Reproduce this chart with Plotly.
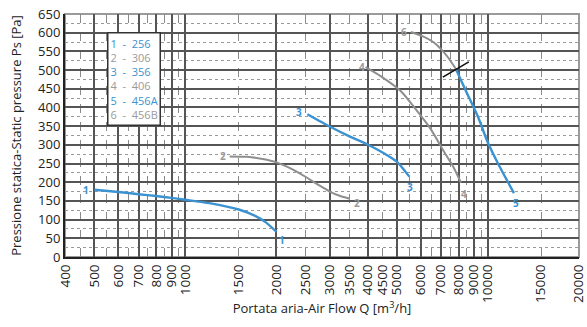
import math
import plotly.graph_objects as go

# ---- data ----
curve_ids = ["1", "2", "3", "4", "5", "6"]
models = ["256", "306", "356", "406", "456A", "456B"]

q1 = [500, 600, 700, 800, 900, 1000, 1200, 1500, 1700, 1850, 2000]
p1 = [180, 174, 168, 163, 158, 153, 144, 127, 110, 92, 67]

q2 = [1400, 1600, 1800, 2000, 2250, 2500, 2750, 3000, 3250, 3500]
p2 = [269, 268, 262, 253, 235, 214, 193, 175, 163, 156]

q3 = [2530, 3000, 3500, 4000, 4500, 5000, 5500]
p3 = [382, 349, 322, 301, 279, 255, 215]

q4 = [3940, 4420, 5150, 6000, 6500, 7180, 7700, 8150]
p4 = [508, 484, 444, 378, 340, 280, 240, 199]

q5 = [7840, 8500, 9300, 10000, 10900, 12200]
p5 = [503, 441, 373, 306, 244, 171]

q6 = [5560, 6100, 6600, 7000, 7400, 7840]
p6 = [602, 590, 575, 556, 533, 503]

divider_q = [7100, 8650]
divider_p = [481, 522]

x_tick_vals = [400, 500, 600, 700, 800, 900, 1000, 1500, 2000, 2500, 3000, 3500,
               4000, 4500, 5000, 6000, 7000, 8000, 9000, 10000, 15000, 20000]
x_solid_grid = [500, 600, 700, 800, 900, 1000, 2000, 3000, 4000, 5000, 6000,
                7000, 8000, 9000, 10000]
x_dashed_grid = [450, 550, 650, 750, 850, 950, 1500, 2500, 3500, 4500, 5500,
                 6500, 7500, 8500, 9500, 15000]
y_tick_vals = list(range(0, 651, 50))
y_dotted_grid = list(range(25, 651, 50))

# ---- style ----
BLUE = "#3b92d0"
GRAY = "#8e8e8e"
LBL_GRAY = "#9a9a9a"
FONT = "Open Sans"
colors = [BLUE, GRAY, BLUE, GRAY, BLUE, GRAY]
widths = [2.4, 2, 2.4, 2, 2.4, 2]
curves = [(q1, p1), (q2, p2), (q3, p3), (q4, p4), (q5, p5), (q6, p6)]

fig = go.Figure()
for (q, p), c, w, cid in zip(curves, colors, widths, curve_ids):
    fig.add_trace(go.Scatter(x=q, y=p, mode="lines", name=cid,
                             line=dict(color=c, width=w, shape="spline", smoothing=0.6),
                             showlegend=False, hoverinfo="skip", xaxis="x", yaxis="y"))

fig.add_trace(go.Scatter(x=divider_q, y=divider_p, mode="lines",
                         line=dict(color="#111", width=1.6), showlegend=False,
                         hoverinfo="skip", xaxis="x2", yaxis="y"))

# curve number labels: (curve index, end 0=start / -1=end, xshift, yshift)
label_spec = [
    (0, 0, -8, 0), (0, -1, 6, -8),
    (1, 0, -7, 0), (1, -1, 7, -4),
    (2, 0, -8, 2), (2, -1, 1, -10),
    (3, 0, -4, 0), (3, -1, 3, -11),
    (4, -1, 2, -10),
    (5, 0, -7, 0),
]
annotations = []
for idx, end, xs, ys in label_spec:
    q, p = curves[idx]
    col = BLUE if colors[idx] == BLUE else LBL_GRAY
    annotations.append(dict(x=math.log10(q[end]), y=p[end], xref="x", yref="y",
                            text="<b>%s</b>" % curve_ids[idx], showarrow=False,
                            xshift=xs, yshift=ys,
                            font=dict(family=FONT, size=10, color=col)))

legend_lines = []
for cid, m, c in zip(curve_ids, models, colors):
    col = BLUE if c == BLUE else LBL_GRAY
    legend_lines.append("<span style='color:%s'>%s  -  %s</span>" % (col, cid, m))
annotations.append(dict(x=0.082, y=0.926, xref="x domain", yref="y domain",
                        xanchor="left", yanchor="top", align="left",
                        text="<br>".join(legend_lines), showarrow=False,
                        bgcolor="white", bordercolor="#333", borderwidth=1.5,
                        borderpad=2,
                        font=dict(family=FONT, size=11)))

lx = [math.log10(400) - 0.0005, math.log10(20000) + 0.0005]
fig.update_layout(
    width=587, height=327,
    margin=dict(l=65, r=8, t=14, b=70),
    paper_bgcolor="white", plot_bgcolor="white",
    font=dict(family=FONT, color="#222"),
    xaxis=dict(type="log", range=lx, tickvals=x_solid_grid, showticklabels=False,
               ticks="", showgrid=True, gridcolor="#555", gridwidth=1.6,
               minor=dict(tickvals=x_dashed_grid, showgrid=True, gridcolor="#8a8a8a",
                          gridwidth=1, griddash="dash", ticks=""),
               showline=False, zeroline=False, automargin=False),
    xaxis2=dict(type="log", range=lx, overlaying="x", anchor="y", side="bottom",
                tickvals=x_tick_vals, ticktext=[str(v) for v in x_tick_vals],
                tickangle=-90, tickfont=dict(size=13.5, color="#222"), ticks="",
                ticklabeloverflow="allow", automargin=False,
                showgrid=False, showline=True, linecolor="#222", linewidth=2,
                title=dict(text="Portata aria-Air Flow Q [m<sup>3</sup>/h]",
                           font=dict(size=13, color="#222"), standoff=2)),
    yaxis=dict(range=[0, 650], tickvals=y_tick_vals, tickfont=dict(size=13, color="#222"),
               ticks="", showgrid=True, gridcolor="#555", gridwidth=1.6,
               minor=dict(tickvals=y_dotted_grid, showgrid=True, gridcolor="#9a9a9a",
                          gridwidth=1, griddash="dot", ticks=""),
               showline=True, linecolor="#222", linewidth=2, zeroline=False,
               automargin=False,
               title=dict(text="Pressione statica-Static pressure Ps [Pa]",
                          font=dict(size=13, color="#222"), standoff=14)),
    shapes=[dict(type="rect", xref="x domain", yref="y domain", x0=0, x1=1, y0=0, y1=1,
                 line=dict(color="#9a9a9a", width=2), layer="below")],
    annotations=annotations,
)

fig.write_html("out.html", config={"displayModeBar": False},
               post_script="document.body.style.margin='0';")
